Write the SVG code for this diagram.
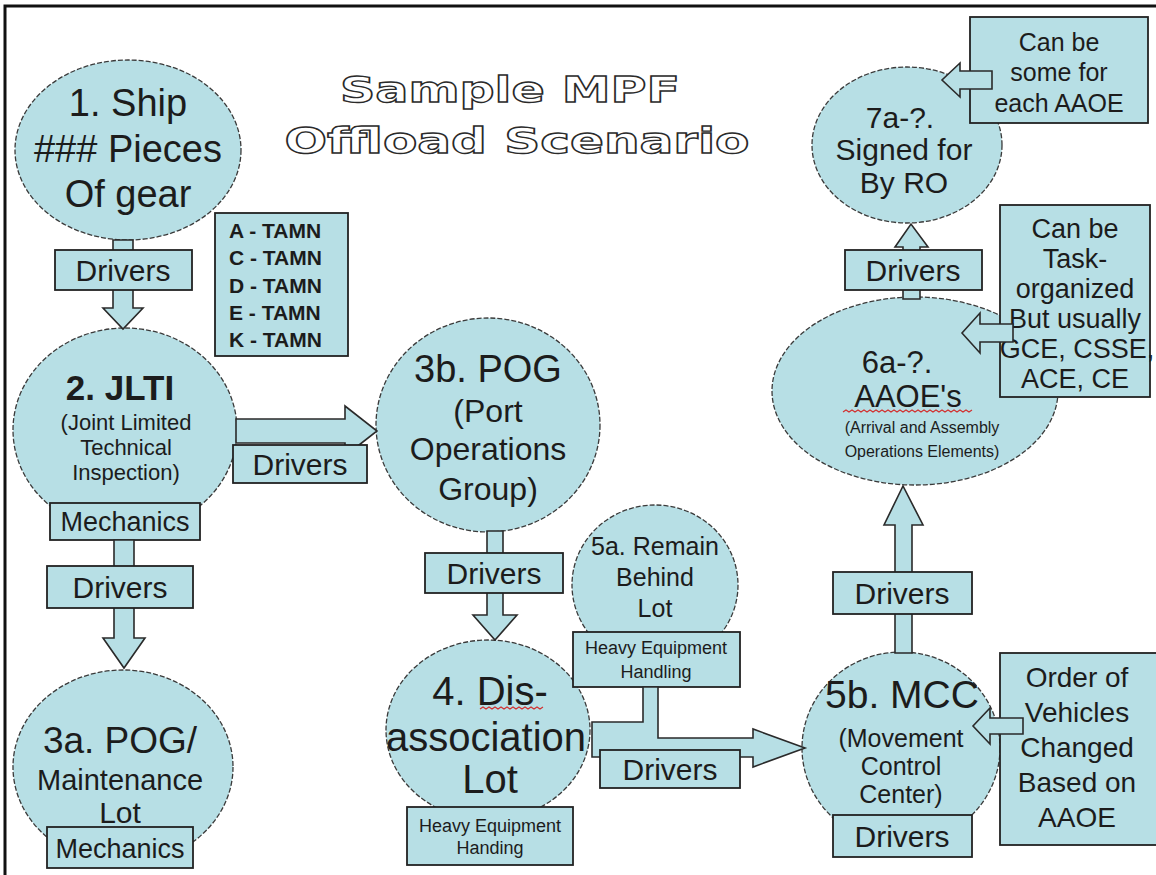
<svg xmlns="http://www.w3.org/2000/svg" width="1156" height="875" viewBox="0 0 1156 875">
<style>
.bg{fill:#ffffff}
.frame{stroke:#111;stroke-width:3;fill:none}
.node{fill:#b7dfe5;stroke:#3a3a3a;stroke-width:1.3;stroke-dasharray:5 2}
.box{fill:#b7dfe5;stroke:#222;stroke-width:1.8}
.arrow{fill:#b7dfe5;stroke:#2a2a2a;stroke-width:1.6;stroke-linejoin:miter}
.squig{fill:none;stroke:#d23030;stroke-width:1.2}
text{font-family:"Liberation Sans",Arial,sans-serif;fill:#1c1c1c;text-anchor:middle}
.title{font-family:"DejaVu Sans","Liberation Sans",sans-serif;font-weight:bold;font-size:36px;fill:#ffffff;stroke:#2a2a2a;stroke-width:1.3}
.legend{font-weight:bold;font-size:21px;text-anchor:start}
.drv{font-size:30px}
.small{font-size:18px}
</style>
<rect class="bg" x="0" y="0" width="1156" height="875"/>
<path class="frame" d="M5,875 V6 H1156"/>

<g id="title">
<text class="title" x="510" y="102" textLength="340" lengthAdjust="spacingAndGlyphs">Sample MPF</text>
<text class="title" x="517" y="153" textLength="465" lengthAdjust="spacingAndGlyphs">Offload Scenario</text>
</g>

<g id="node1">
<ellipse class="node" cx="128" cy="150" rx="113" ry="90"/>
<text font-size="38" x="128" y="116">1. Ship</text>
<text font-size="38" x="128" y="162">### Pieces</text>
<text font-size="38" x="128" y="207">Of gear</text>
</g>

<g id="legend">
<rect class="box" x="215" y="213" width="133" height="143"/>
<text class="legend" x="229" y="238">A - TAMN</text>
<text class="legend" x="229" y="265">C - TAMN</text>
<text class="legend" x="229" y="293">D - TAMN</text>
<text class="legend" x="229" y="320">E - TAMN</text>
<text class="legend" x="229" y="347">K - TAMN</text>
</g>

<g id="node2">
<ellipse class="node" cx="125" cy="430" rx="112" ry="102"/>
<text font-size="35" font-weight="bold" x="120" y="400">2. JLTI</text>
<text font-size="22" x="126" y="430">(Joint Limited</text>
<text font-size="22" x="126" y="455">Technical</text>
<text font-size="22" x="126" y="480">Inspection)</text>
<rect class="box" x="50" y="503" width="150" height="37"/>
<text font-size="27" x="125" y="531">Mechanics</text>
</g>

<g id="node3a">
<ellipse class="node" cx="123" cy="767" rx="110" ry="97"/>
<text font-size="37" x="120" y="753">3a. POG/</text>
<text font-size="29" x="120" y="790">Maintenance</text>
<text font-size="30" x="120" y="823">Lot</text>
<rect class="box" x="47" y="827" width="146" height="41"/>
<text font-size="27" x="120" y="858">Mechanics</text>
</g>

<g id="node3b">
<ellipse class="node" cx="488" cy="425" rx="112" ry="107"/>
<text font-size="38" x="488" y="382">3b. POG</text>
<text font-size="32" x="488" y="422">(Port</text>
<text font-size="32" x="488" y="460">Operations</text>
<text font-size="32" x="488" y="500">Group)</text>
</g>

<g id="node4">
<ellipse class="node" cx="488" cy="730" rx="102" ry="90"/>
<text font-size="40" x="490" y="705">4. Dis-</text>
<text font-size="40" x="486" y="751">association</text>
<text font-size="40" x="490" y="793">Lot</text>
<path class="squig" d="M480,709 l3,-2 l3,2 l3,-2 l3,2 l3,-2 l3,2 l3,-2 l3,2 l3,-2 l3,2 l3,-2 l3,2 l3,-2 l3,2 l3,-2 l3,2 l3,-2 l3,2 l3,-2 l3,2 l3,-2"/>
<rect class="box" x="407" y="807" width="166" height="58"/>
<text class="small" x="490" y="832">Heavy Equipment</text>
<text class="small" x="490" y="854">Handing</text>
</g>

<g id="node5a">
<ellipse class="node" cx="655" cy="585" rx="83" ry="80"/>
<text font-size="25" x="655" y="555">5a. Remain</text>
<text font-size="25" x="655" y="586">Behind</text>
<text font-size="25" x="655" y="617">Lot</text>
<rect class="box" x="573" y="632" width="167" height="55"/>
<text class="small" x="656" y="654">Heavy Equipment</text>
<text class="small" x="656" y="678">Handling</text>
</g>

<g id="node5b">
<ellipse class="node" cx="901" cy="748" rx="99" ry="96"/>
<text font-size="39" x="902" y="708">5b. MCC</text>
<text font-size="25" x="901" y="747">(Movement</text>
<text font-size="25" x="901" y="775">Control</text>
<text font-size="25" x="901" y="803">Center)</text>
<rect class="box" x="833" y="815" width="139" height="42"/>
<text class="drv" x="902" y="847">Drivers</text>
</g>

<g id="node6a">
<ellipse class="node" cx="915" cy="391" rx="143" ry="94"/>
<text font-size="31" x="897" y="373">6a-?.</text>
<text font-size="31" x="908" y="407">AAOE's</text>
<path class="squig" d="M843,412 l3,-2 l3,2 l3,-2 l3,2 l3,-2 l3,2 l3,-2 l3,2 l3,-2 l3,2 l3,-2 l3,2 l3,-2 l3,2 l3,-2 l3,2 l3,-2 l3,2 l3,-2 l3,2 l3,-2 l3,2 l3,-2 l3,2 l3,-2 l3,2 l3,-2 l3,2 l3,-2 l3,2 l3,-2 l3,2 l3,-2 l3,2 l3,-2 l3,2 l3,-2 l3,2 l3,-2 l3,2 l3,-2 l3,2 l3,-2"/>
<text font-size="16" x="922" y="433">(Arrival and Assembly</text>
<text font-size="16" x="922" y="457">Operations Elements)</text>
</g>

<g id="node7a">
<ellipse class="node" cx="907" cy="145" rx="95" ry="78"/>
<text font-size="30" x="900" y="128">7a-?.</text>
<text font-size="30" x="904" y="160">Signed for</text>
<text font-size="30" x="904" y="193">By RO</text>
</g>

<g id="note7a">
<rect class="box" x="970" y="17" width="178" height="106"/>
<text font-size="25" x="1059" y="51">Can be</text>
<text font-size="25" x="1059" y="81">some for</text>
<text font-size="25" x="1059" y="112">each AAOE</text>
</g>

<g id="note6a">
<rect class="box" x="1000" y="205" width="150" height="192"/>
<text font-size="27" x="1075" y="238">Can be</text>
<text font-size="27" x="1075" y="268">Task-</text>
<text font-size="27" x="1075" y="298">organized</text>
<text font-size="27" x="1075" y="328">But usually</text>
<text font-size="27" x="1077" y="358">GCE, CSSE,</text>
<text font-size="27" x="1075" y="388">ACE, CE</text>
</g>

<g id="note5b">
<rect class="box" x="1000" y="653" width="160" height="192"/>
<text font-size="28" x="1077" y="687">Order of</text>
<text font-size="28" x="1077" y="722">Vehicles</text>
<text font-size="28" x="1077" y="757">Changed</text>
<text font-size="28" x="1077" y="792">Based on</text>
<text font-size="28" x="1077" y="827">AAOE</text>
</g>

<g id="connectors">
<polygon class="arrow" points="113,240 133,240 133,308 143,308 123,329 103,308 113,308"/>
<rect class="box" x="55" y="250" width="137" height="40"/>
<text class="drv" x="123" y="281">Drivers</text>

<polygon class="arrow" points="114,540 134,540 134,638 145,638 124,668 103,638 114,638"/>
<rect class="box" x="47" y="566" width="146" height="42"/>
<text class="drv" x="120" y="598">Drivers</text>

<polygon class="arrow" points="236,419 345,419 345,406 377,431 345,456 345,443 236,443"/>
<rect class="box" x="233" y="445" width="134" height="38"/>
<text class="drv" x="300" y="475">Drivers</text>

<polygon class="arrow" points="487,531 503,531 503,615 517,615 495,640 473,615 487,615"/>
<rect class="box" x="425" y="553" width="138" height="40"/>
<text class="drv" x="494" y="584">Drivers</text>

<polygon class="arrow" points="592,722 643,722 643,687 658,687 658,738 753,738 753,729 805,748 753,767 753,757 592,757"/>
<rect class="box" x="600" y="750" width="140" height="38"/>
<text class="drv" x="670" y="780">Drivers</text>

<polygon class="arrow" points="895,653 912,653 912,525 923,525 903,486 884,525 895,525"/>
<rect class="box" x="833" y="572" width="139" height="42"/>
<text class="drv" x="902" y="604">Drivers</text>

<polygon class="arrow" points="903,299 920,299 920,247 928,247 911,224 895,247 903,247"/>
<rect class="box" x="845" y="250" width="137" height="40"/>
<text class="drv" x="913" y="281">Drivers</text>

<polygon class="arrow" points="992,71 960,71 960,63 942,80 960,97 960,89 992,89"/>
<polygon class="arrow" points="1013,324 980,324 980,313 962,333 980,353 980,342 1013,342"/>
<polygon class="arrow" points="1023,718 990,718 990,708 973,726 990,744 990,734 1023,734"/>
</g>
</svg>
